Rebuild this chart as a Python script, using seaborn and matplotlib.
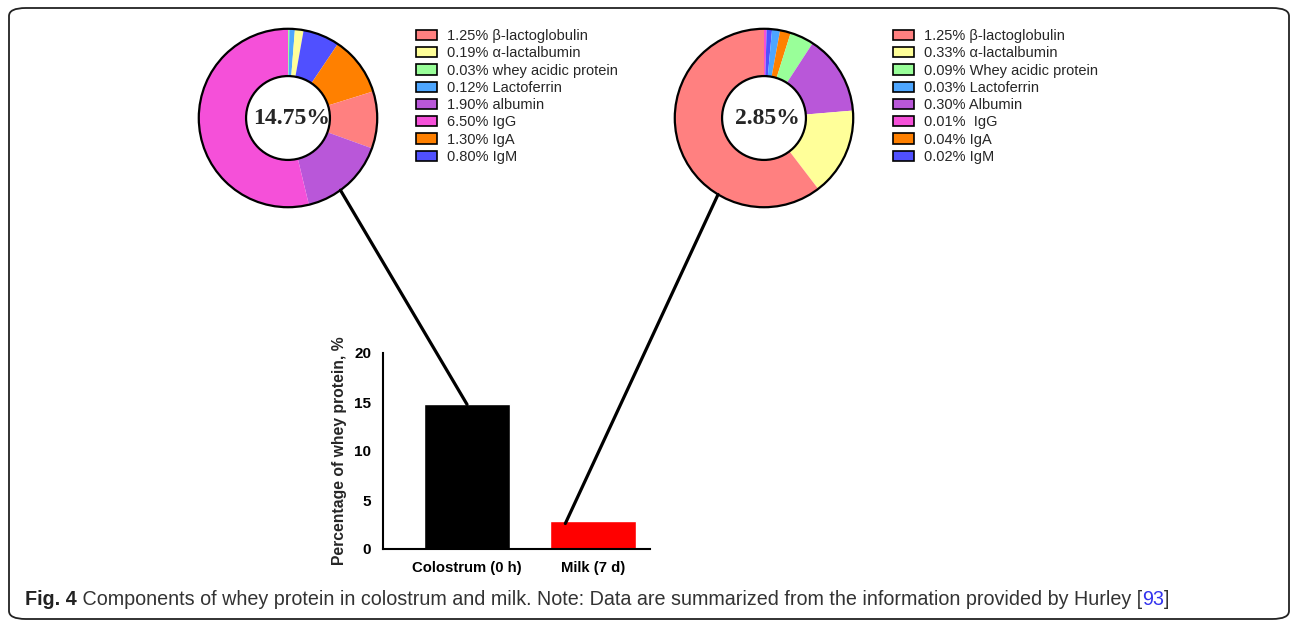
import numpy as np
import pandas as pd
import matplotlib
matplotlib.use("Agg")
import matplotlib.pyplot as plt
from matplotlib.patches import Patch, Circle, FancyBboxPatch, ConnectionPatch
import seaborn as sns

# ---- data ----
components = ['β-lactoglobulin', 'α-lactalbumin', 'whey acidic protein', 'Lactoferrin',
              'albumin', 'IgG', 'IgA', 'IgM']
milk_names = ['β-lactoglobulin', 'α-lactalbumin', 'Whey acidic protein', 'Lactoferrin',
              'Albumin', ' IgG', 'IgA', 'IgM']
colostrum_vals = [1.25, 0.19, 0.03, 0.12, 1.90, 6.50, 1.30, 0.80]
milk_vals = [1.25, 0.33, 0.09, 0.03, 0.30, 0.01, 0.04, 0.02]
colors = ['#FF8080', '#FFFF99', '#99FF99', '#4DA6FF', '#B957D9', '#F550D9', '#FF8000', '#5050FF']
# clockwise order from 12 o'clock as drawn in the figure
colostrum_order = [2, 3, 1, 7, 6, 0, 4, 5]
milk_order = [5, 7, 3, 6, 2, 4, 1, 0]

groups = ['Colostrum (0 h)', 'Milk (7 d)']
totals = [14.75, 2.85]
total_labels = ['14.75%', '2.85%']
bar_colors = ['#000000', '#FF0000']

W, H = 1290, 620
fig = plt.figure(figsize=(W / 100, H / 100), dpi=100)
sns.set_style("white")
plt.rcParams['font.family'] = ['Liberation Sans', 'DejaVu Sans']


def px_axes(x0, y0, x1, y1):
    # axes from pixel box (top-left origin)
    return fig.add_axes([x0 / W, 1 - y1 / H, (x1 - x0) / W, (y1 - y0) / H])


def donut(cx, cy, r, vals, order, label, names, leg_x):
    ax = px_axes(cx - r, cy - r, cx + r, cy + r)
    v = [vals[i] for i in order]
    c = [colors[i] for i in order]
    ax.pie(v, colors=c, startangle=90, counterclock=False, radius=1,
           wedgeprops=dict(width=0.53, linewidth=0))
    ax.add_patch(Circle((0, 0), 1, fill=False, edgecolor='black', linewidth=1.6))
    ax.add_patch(Circle((0, 0), 0.47, facecolor='white', edgecolor='black', linewidth=1.6))
    ax.set_xlim(-1.02, 1.02)
    ax.set_ylim(-1.02, 1.02)
    ax.set_aspect('equal')
    ax.axis('off')
    ax.text(0.04, 0, label, ha='center', va='center', fontsize=17, fontweight='bold',
            family='Liberation Serif')
    handles = [Patch(facecolor=colors[i], edgecolor='black', linewidth=1.2) for i in range(len(vals))]
    labels = [f"{vals[i]:.2f}% {names[i]}" for i in range(len(vals))]
    fig.legend(handles, labels, loc='upper left', bbox_to_anchor=(leg_x / W, 1 - 29 / H),
               frameon=False, fontsize=10.5, handlelength=1.45, handleheight=0.7,
               handletextpad=0.68, labelspacing=0.225, borderpad=0, borderaxespad=0)
    return ax


ax1 = donut(288, 118, 91, colostrum_vals, colostrum_order, total_labels[0], components, 416)
ax2 = donut(764, 118, 91, milk_vals, milk_order, total_labels[1], milk_names, 893)

# ---- bar chart ----
axb = px_axes(383, 353, 650, 549)
df = pd.DataFrame({'group': groups, 'value': totals})
sns.barplot(data=df, x='group', y='value', hue='group', palette=bar_colors,
            width=0.68, legend=False, ax=axb, saturation=1)
axb.set_xlim(-0.667, 1.452)
axb.set_ylim(0, 20)
axb.set_yticks([0, 5, 10, 15, 20])
axb.set_xlabel('')
axb.set_ylabel('Percentage of whey protein, %', fontsize=11.3, fontweight='bold', labelpad=5)
for s in ['top', 'right']:
    axb.spines[s].set_visible(False)
for s in ['left', 'bottom']:
    axb.spines[s].set_linewidth(1.5)
    axb.spines[s].set_color('black')
axb.tick_params(axis='both', direction='out', length=5, width=1.5, labelsize=11, colors='black')
axb.tick_params(axis='x', labelsize=10.7)
for t in axb.get_xticklabels() + axb.get_yticklabels():
    t.set_fontweight('bold')

# connector lines from donuts to bars
a1 = np.deg2rad(-54)
a2 = np.deg2rad(-121)
fig.add_artist(ConnectionPatch((np.cos(a1), np.sin(a1)), (0, totals[0]), ax1.transData, axb.transData,
                               color='black', linewidth=2.3))
fig.add_artist(ConnectionPatch((np.cos(a2), np.sin(a2)), (0.78, totals[1] - 0.25), ax2.transData, axb.transData,
                               color='black', linewidth=2.3))

# ---- frame and caption ----
fig.add_artist(FancyBboxPatch((9 / W, 1 - 619 / H), (1289 - 9) / W, (619 - 8) / H,
                              boxstyle='round,pad=0,rounding_size=0.013',
                              transform=fig.transFigure, fill=False,
                              edgecolor='#222222', linewidth=1.3))

cap_font = ['Liberation Sans', 'DejaVu Sans']
cap_y = 1 - 605 / H
parts = [('Fig. 4', 'bold', '#222222'),
         (' Components of whey protein in colostrum and milk. Note: Data are summarized from the information provided by Hurley [', 'normal', '#333333'),
         ('93', 'normal', '#3333EE'),
         (']', 'normal', '#333333')]
fig.canvas.draw()
r = fig.canvas.get_renderer()


def place_caption(size):
    x = 25 / W
    made = []
    for txt, wt, col in parts:
        t = fig.text(x, cap_y, txt, fontsize=size, fontweight=wt, color=col, family=cap_font,
                     ha='left', va='baseline')
        made.append(t)
        x = t.get_window_extent(renderer=r).x1 / W
    return made, x * W


made, end = place_caption(13)
# the caption font is condensed; shrink to the same line length
for t in made:
    t.remove()
place_caption(13 * (1168 - 25) / (end - 25))

fig.savefig('out.png', dpi=100)
